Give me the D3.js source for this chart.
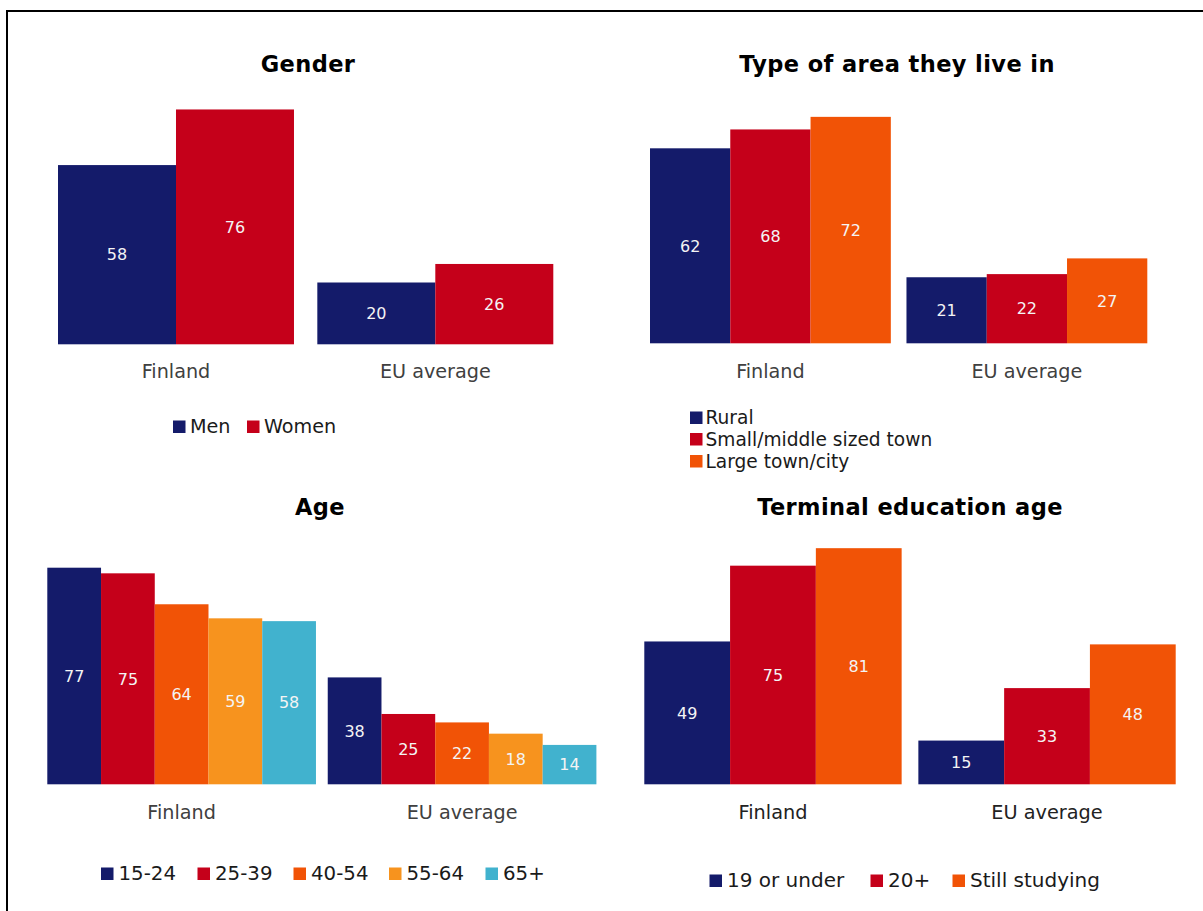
<!DOCTYPE html>
<html>
<head>
<meta charset="utf-8">
<script src="https://cdn.jsdelivr.net/npm/d3@7/dist/d3.min.js"></script>
<style>
  html, body { margin: 0; padding: 0; background: #fff; }
  svg { display: block; font-family: "DejaVu Sans", Verdana, sans-serif; }
</style>
</head>
<body>
<svg id="chart" width="1203" height="911"></svg>
<script>
// ---------- DATA ----------
const groups = ["Finland", "EU average"];

const genderSeries = ["Men", "Women"];
const genderFinland = [58, 76];
const genderEU = [20, 26];

const areaSeries = ["Rural", "Small/middle sized town", "Large town/city"];
const areaFinland = [62, 68, 72];
const areaEU = [21, 22, 27];

const ageSeries = ["15-24", "25-39", "40-54", "55-64", "65+"];
const ageFinland = [77, 75, 64, 59, 58];
const ageEU = [38, 25, 22, 18, 14];

const eduSeries = ["19 or under", "20+", "Still studying"];
const eduFinland = [49, 75, 81];
const eduEU = [15, 33, 48];

// ---------- STYLE ----------
const NAVY = "#141B6A", RED = "#C5001A", ORANGE = "#F15306", AMBER = "#F7931E", TEAL = "#41B2CE";

const svg = d3.select("#chart");

// frame
svg.append("rect")
  .attr("x", 7).attr("y", 11)
  .attr("width", 1210).attr("height", 920)
  .attr("fill", "none").attr("stroke", "#000").attr("stroke-width", 2);

function panel(cfg) {
  const g = svg.append("g");
  const x0 = d3.scaleBand().domain(groups).range(cfg.xr).paddingInner(cfg.pi).paddingOuter(0);
  const x1 = d3.scaleBand().domain(cfg.series).range([0, x0.bandwidth()]).padding(0);
  const y = d3.scaleLinear().domain([0, 100]).range([cfg.base, cfg.base - 100 * cfg.k]);
  const color = d3.scaleOrdinal().domain(cfg.series).range(cfg.colors);

  const rows = groups.map((grp, i) => ({
    group: grp,
    values: cfg.series.map((s, j) => ({ s, v: cfg.data[i][j] }))
  }));

  const gg = g.selectAll("g.grp").data(rows).enter().append("g")
    .attr("transform", d => `translate(${x0(d.group)},0)`);

  gg.selectAll("rect").data(d => d.values).enter().append("rect")
    .attr("x", d => x1(d.s))
    .attr("width", x1.bandwidth())
    .attr("y", d => y(d.v))
    .attr("height", d => y(0) - y(d.v))
    .attr("fill", d => color(d.s));

  gg.selectAll("text.val").data(d => d.values).enter().append("text")
    .attr("class", "val")
    .attr("x", d => x1(d.s) + x1.bandwidth() / 2)
    .attr("y", d => (y(d.v) + y(0)) / 2)
    .attr("dy", "0.36em")
    .attr("text-anchor", "middle")
    .attr("font-size", 16)
    .attr("fill", "#f4f4f4")
    .text(d => d.v);

  // category axis labels
  const ax = d3.axisBottom(x0).tickSize(0).tickPadding(0);
  const axG = g.append("g").attr("transform", `translate(0,${cfg.catY})`).call(ax);
  axG.select(".domain").remove();
  axG.selectAll("text")
    .attr("y", 0).attr("dy", 0)
    .attr("font-size", cfg.catSize)
    .attr("font-family", "DejaVu Sans, Verdana, sans-serif")
    .attr("fill", cfg.catColor);

  // title
  g.append("text")
    .attr("x", cfg.titleX).attr("y", cfg.titleY)
    .attr("text-anchor", "middle")
    .attr("font-size", 22.5).attr("font-weight", "bold")
    .attr("letter-spacing", 0.4)
    .attr("fill", "#000")
    .text(cfg.title);

  // legend
  cfg.series.forEach((s, j) => {
    const p = cfg.legend[j];
    g.append("rect").attr("x", p[0]).attr("y", p[1] - 12.5)
      .attr("width", 12.5).attr("height", 12.5).attr("fill", color(s));
    g.append("text").attr("x", p[0] + cfg.legOff).attr("y", p[1])
      .attr("font-size", cfg.legSize).attr("fill", "#1a1a1a").text(s);
  });
}

panel({
  title: "Gender", titleX: 308, titleY: 72,
  series: genderSeries, data: [genderFinland, genderEU], colors: [NAVY, RED],
  xr: [58, 553.3], pi: 0.09, base: 344.3, k: 3.09,
  catY: 378, catSize: 19.2, catColor: "#404040",
  legend: [[173, 433], [247, 433]], legOff: 17, legSize: 19.2
});

panel({
  title: "Type of area they live in", titleX: 897, titleY: 72,
  series: areaSeries, data: [areaFinland, areaEU], colors: [NAVY, RED, ORANGE],
  xr: [650, 1147.3], pi: 0.061, base: 343.3, k: 3.145,
  catY: 378, catSize: 19.2, catColor: "#404040",
  legend: [[690, 424], [690, 445.5], [690, 467.5]], legOff: 15.5, legSize: 18.6
});

panel({
  title: "Age", titleX: 320, titleY: 515,
  series: ageSeries, data: [ageFinland, ageEU], colors: [NAVY, RED, ORANGE, AMBER, TEAL],
  xr: [47.3, 596.4], pi: 0.042, base: 784.3, k: 2.813,
  catY: 819, catSize: 19.2, catColor: "#404040",
  legend: [[101, 880], [197.5, 880], [293.5, 880], [389, 880], [485.5, 880]], legOff: 17.5, legSize: 19.8
});

panel({
  title: "Terminal education age", titleX: 910, titleY: 515,
  series: eduSeries, data: [eduFinland, eduEU], colors: [NAVY, RED, ORANGE],
  xr: [644.3, 1175.7], pi: 0.061, base: 784.3, k: 2.915,
  catY: 819, catSize: 19.3, catColor: "#222",
  legend: [[709.5, 887], [870.5, 887], [952.5, 887]], legOff: 17.5, legSize: 20
});
</script>
</body>
</html>
